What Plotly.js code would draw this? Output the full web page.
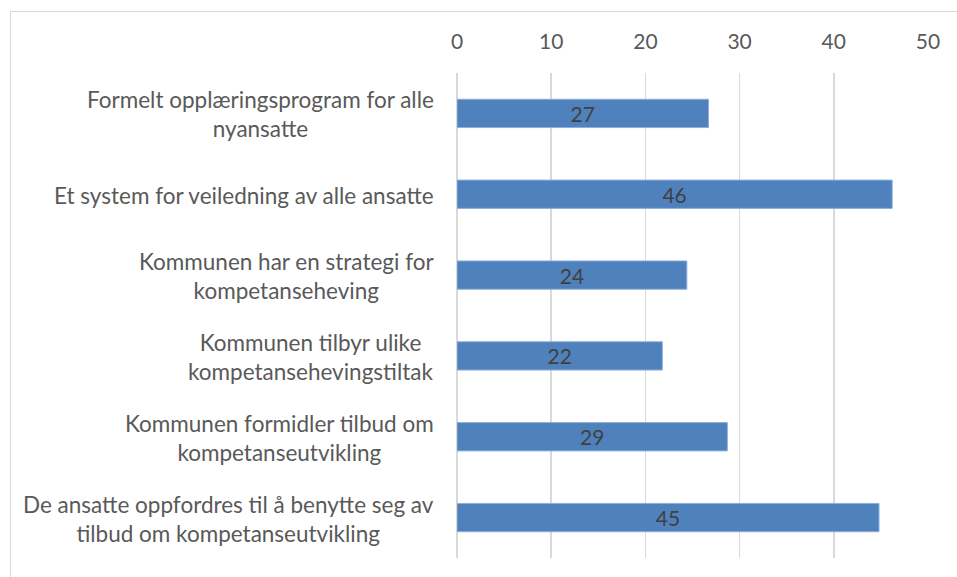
<!DOCTYPE html>
<html>
<head>
<meta charset="utf-8">
<script src="https://cdn.plot.ly/plotly-3.0.1.min.js"></script>
<style>
html,body{margin:0;padding:0;background:#fff;}
#wrap{position:absolute;left:0;top:0;width:957px;height:577px;}
#frame{position:absolute;left:10px;top:11px;width:960px;height:600px;border-left:1px solid #d9d9d9;border-top:1px solid #d9d9d9;pointer-events:none;}
#chart{position:absolute;left:0;top:0;width:957px;height:577px;}
</style>
</head>
<body>
<div id="wrap">
<div id="chart"></div>
<div id="frame"></div>
</div>
<script>
const categories = [
  "Formelt opplæringsprogram for alle<br>nyansatte",
  "Et system for veiledning av alle ansatte",
  "Kommunen har en strategi for<br>kompetanseheving",
  "Kommunen tilbyr ulike<br>kompetansehevingstiltak",
  "Kommunen formidler tilbud om<br>kompetanseutvikling",
  "De ansatte oppfordres til å benytte seg av<br>tilbud om kompetanseutvikling"
];
const values = [26.7, 46.2, 24.4, 21.8, 28.7, 44.8];
const tickVals = [0, 10, 20, 30, 40, 50];

const font = "Lato, 'Open Sans', 'Liberation Sans', sans-serif";

const labelAnnotations = categories.map(c => ({
  xref: 'paper', yref: 'y', x: -0.045, y: c,
  xanchor: 'right', yanchor: 'middle', align: 'center',
  yshift: -1,
  text: c, showarrow: false,
  font: {family: font, size: 22.5, color: '#595959'}
}));

Plotly.newPlot('chart', [{
  type: 'bar',
  orientation: 'h',
  x: values,
  y: categories,
  marker: {color: '#4F81BD', line: {color: '#8eaedb', width: 1}},
  texttemplate: '%{x:.0f}',
  textposition: 'inside',
  textangle: 0,
  constraintext: 'none',
  insidetextanchor: 'middle',
  textfont: {family: font, size: 21, color: '#404040'},
  hoverinfo: 'none',
  cliponaxis: false
}], {
  width: 957, height: 577,
  margin: {l: 457, r: 29, t: 73, b: 19, pad: 0},
  paper_bgcolor: '#fff', plot_bgcolor: '#fff',
  bargap: 0.65,
  showlegend: false,
  annotations: labelAnnotations,
  xaxis: {
    side: 'top', range: [0, 50], tickvals: tickVals, ticktext: tickVals.map(String),
    showgrid: true, gridcolor: '#d9d9d9', gridwidth: 1.5,
    zeroline: true, zerolinecolor: '#d9d9d9', zerolinewidth: 1.5,
    showline: false, ticks: '',
    ticklabelstandoff: 19,
    tickfont: {family: font, size: 21, color: '#595959'}
  },
  yaxis: {
    autorange: 'reversed', showgrid: false, zeroline: false, showline: false, ticks: '',
    showticklabels: false
  },
  font: {family: font}
}, {staticPlot: true});
</script>
</body>
</html>
